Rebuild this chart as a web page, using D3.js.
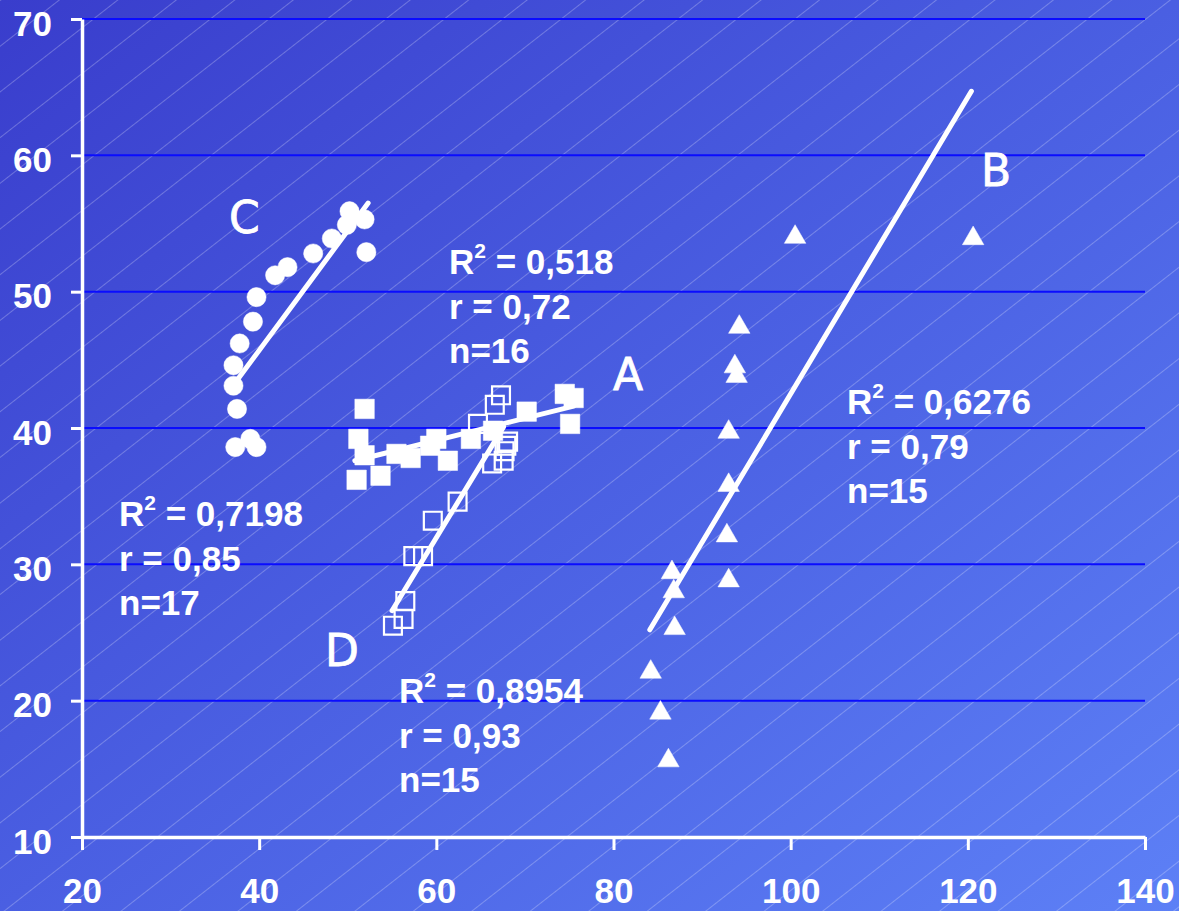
<!DOCTYPE html>
<html>
<head>
<meta charset="utf-8">
<script src="https://cdn.jsdelivr.net/npm/d3@7"></script>
<style>
  html, body { margin: 0; padding: 0; background: #4a5be0; }
  svg { display: block; }
  text { font-family: "Liberation Sans", Arial, sans-serif; font-weight: bold; fill: #fff; }
</style>
</head>
<body>
<script>
// --- data ---
const xTicks = [20, 40, 60, 80, 100, 120, 140];
const yTicks = [10, 20, 30, 40, 50, 60, 70];

// C: filled circles
const cX = [50.2, 51.9, 49.9, 52.1, 48.2, 46.1, 43.2, 41.8, 39.7, 39.3, 37.8, 37.1, 37.1, 37.5, 37.3, 39.0, 39.7];
const cY = [55.9, 55.3, 54.9, 52.9, 53.9, 52.8, 51.8, 51.2, 49.6, 47.8, 46.2, 44.6, 43.1, 41.4, 38.6, 39.2, 38.6];

// A: filled squares
const aX = [51.9, 51.2, 51.9, 51.0, 53.7, 55.5, 57.1, 60.0, 59.3, 61.3, 63.9, 66.4, 70.2, 74.5, 75.5, 75.1];
const aY = [41.4, 39.2, 38.0, 36.2, 36.5, 38.1, 37.8, 39.2, 38.7, 37.6, 39.2, 39.8, 41.2, 42.5, 42.2, 40.3];

// D: open squares
const dX = [55.1, 56.3, 56.5, 57.4, 58.5, 59.6, 62.4, 66.3, 67.6, 67.7, 67.9, 64.7, 66.6, 67.3, 68.1];
const dY = [25.5, 26.0, 27.3, 30.6, 30.6, 33.2, 34.6, 37.4, 37.6, 38.3, 38.7, 40.3, 41.7, 42.4, 39.0];

// B: triangles
const bX = [94.2, 93.7, 93.9, 93.0, 93.0, 92.8, 93.0, 86.6, 86.8, 86.9, 84.2, 85.3, 86.2, 100.5, 120.6];
const bY = [47.4, 44.5, 43.8, 39.7, 35.8, 32.1, 28.8, 29.4, 28.0, 25.3, 22.1, 19.1, 15.6, 54.0, 53.9];

// trend lines (x0, x1, y0, y1)
const trendC = [[37.5, 52.3], [43.5, 56.5]];
const trendA = [[50.8, 75.5], [37.6, 41.6]];
const trendD = [[55.0, 67.6], [26.6, 40.1]];
const trendB = [[84.1, 120.4], [25.2, 64.7]];

const statsC = ['0,7198', '0,85', '17'];
const statsA = ['0,518', '0,72', '16'];
const statsD = ['0,8954', '0,93', '15'];
const statsB = ['0,6276', '0,79', '15'];

// --- chart ---
const W = 1179, H = 911;
const svg = d3.select(document.body).append('svg')
  .attr('width', W).attr('height', H);

const defs = svg.append('defs');
const grad = defs.append('linearGradient').attr('id', 'bg')
  .attr('x1', 0).attr('y1', 0).attr('x2', 1).attr('y2', 1);
grad.append('stop').attr('offset', 0).attr('stop-color', '#393dcc');
grad.append('stop').attr('offset', 0.5).attr('stop-color', '#4a5fe2');
grad.append('stop').attr('offset', 1).attr('stop-color', '#5d80f6');

const hatch = defs.append('pattern').attr('id', 'hatch')
  .attr('patternUnits', 'userSpaceOnUse')
  .attr('width', 200).attr('height', 36)
  .attr('patternTransform', 'rotate(-38)');
hatch.append('line')
  .attr('x1', 0).attr('x2', 200).attr('y1', 0.5).attr('y2', 0.5)
  .attr('stroke', '#fff').attr('stroke-opacity', 0.25).attr('stroke-width', 1);

svg.append('rect').attr('width', W).attr('height', H).attr('fill', 'url(#bg)');
svg.append('rect').attr('width', W).attr('height', H).attr('fill', 'url(#hatch)');

const x = d3.scaleLinear().domain([20, 140]).range([82, 1145]);
const y = d3.scaleLinear().domain([10, 70]).range([837, 19]);

// gridlines
svg.append('g').selectAll('line')
  .data(yTicks.slice(1))
  .enter().append('line')
  .attr('x1', x(20)).attr('x2', x(140))
  .attr('y1', d => y(d)).attr('y2', d => y(d))
  .attr('stroke', '#0a0cff').attr('stroke-width', 2);

// axes
const gx = svg.append('g').attr('transform', `translate(0,${y(10)})`)
  .call(d3.axisBottom(x).tickValues(xTicks).tickSize(13).tickSizeOuter(0));
const gy = svg.append('g').attr('transform', `translate(${x(20)},0)`)
  .call(d3.axisLeft(y).tickValues(yTicks).tickSize(11).tickSizeOuter(0));

[gx, gy].forEach(g => {
  g.select('.domain').attr('stroke', '#fff').attr('stroke-width', 3.5);
  g.selectAll('.tick line').attr('stroke', '#fff').attr('stroke-width', 3);
  g.selectAll('.tick text')
    .attr('fill', '#fff')
    .style('font-family', '"Liberation Sans", Arial, sans-serif')
    .style('font-weight', 'bold')
    .style('font-size', '35px');
});
gx.selectAll('.tick text').attr('y', 66).attr('dy', null);
gy.selectAll('.tick text').attr('x', -30).attr('dy', 16);

// trend lines
const trends = [trendC, trendA, trendD, trendB];
svg.append('g').selectAll('line')
  .data(trends)
  .enter().append('line')
  .attr('x1', d => x(d[0][0])).attr('x2', d => x(d[0][1]))
  .attr('y1', d => y(d[1][0])).attr('y2', d => y(d[1][1]))
  .attr('stroke', '#fff').attr('stroke-width', 5)
  .attr('stroke-linecap', 'round');

// markers
function plot(xs, ys, type, size, filled) {
  const sym = d3.symbol().type(type).size(size);
  svg.append('g').selectAll('path')
    .data(xs.map((v, i) => [v, ys[i]]))
    .enter().append('path')
    .attr('transform', d => `translate(${x(d[0])},${y(d[1])})`)
    .attr('d', sym)
    .attr('fill', filled ? '#fff' : 'none')
    .attr('stroke', '#fff')
    .attr('stroke-width', filled ? 0.5 : 2.2);
}
plot(cX, cY, d3.symbolCircle, 290, true);
plot(aX, aY, d3.symbolSquare, 380, true);
plot(dX, dY, d3.symbolSquare, 320, false);
plot(bX, bY, d3.symbolTriangle, 200, true);

// series letters
const letters = [['C', 229, 233], ['A', 613, 390], ['B', 981, 186], ['D', 325, 666]];
svg.append('g').selectAll('text')
  .data(letters)
  .enter().append('text')
  .attr('x', d => d[1]).attr('y', d => d[2])
  .style('font-family', '"DejaVu Sans", Verdana, sans-serif')
  .style('font-weight', 'normal')
  .style('font-size', '44px')
  .style('stroke', '#fff').style('stroke-width', 0.8)
  .text(d => d[0]);

// stats blocks
function stats(vals, px, py) {
  const g = svg.append('g').style('font-size', '35px');
  const t = g.append('text').attr('x', px).attr('y', py);
  t.append('tspan').text('R');
  t.append('tspan').attr('dy', -16).style('font-size', '21px').text('2');
  t.append('tspan').attr('dy', 16).text(' = ' + vals[0]);
  g.append('text').attr('x', px).attr('y', py + 45).text('r = ' + vals[1]);
  g.append('text').attr('x', px).attr('y', py + 89).text('n=' + vals[2]);
}
stats(statsC, 119, 526);
stats(statsA, 449, 274);
stats(statsD, 399, 703);
stats(statsB, 847, 414);
</script>
</body>
</html>
